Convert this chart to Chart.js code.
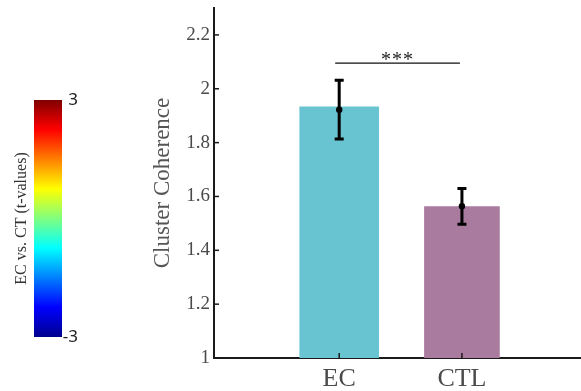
<!DOCTYPE html>
<html>
<head>
<meta charset="utf-8">
<script src="https://cdn.jsdelivr.net/npm/chart.js@4.4.1/dist/chart.umd.min.js"></script>
<style>
  html, body { margin: 0; padding: 0; background: #fff; }
  #wrap { position: relative; width: 581px; height: 391px; }
  #main, #cbar { position: absolute; left: 0; top: 0; }
</style>
</head>
<body>
<div id="wrap">
  <canvas id="main" width="581" height="391"></canvas>
  <canvas id="cbar" width="100" height="391"></canvas>
</div>
<script>
// ---- data ----
const groups = ['EC', 'CTL'];
const groupPos = [1, 2];
const barValues = [1.933, 1.562];
const meanValues = [1.922, 1.564];
const errLower = [1.813, 1.497];
const errUpper = [2.032, 1.630];
const yTicks = [1, 1.2, 1.4, 1.6, 1.8, 2, 2.2];
const sigLevel = 2.095;
const sigLabel = '***';
const cbarRange = [-3, 3];
const cbarTicks = [-3, 3];

// ---- styling ----
const barColors = ['#69C4D2', '#A97B9F'];
const barWidths = [79, 75];
const jetStops = [
  [0.0, '#00008F'], [0.125, '#0000FF'], [0.375, '#00FFFF'],
  [0.625, '#FFFF00'], [0.875, '#FF0000'], [1.0, '#800000']
];
const serif = "'Liberation Serif', 'Times New Roman', serif";
const axisColor = '#1a1a1a';

// whiskers, inner ticks and the significance bracket
const overlay = {
  id: 'overlay',
  afterDatasetsDraw(chart) {
    const { ctx, scales: { x, y }, chartArea } = chart;
    ctx.save();
    ctx.strokeStyle = axisColor;
    ctx.lineWidth = 1.5;
    // ticks pointing into the plot
    yTicks.forEach(v => {
      const py = y.getPixelForValue(v);
      ctx.beginPath();
      ctx.moveTo(chartArea.left, py);
      ctx.lineTo(chartArea.left + 5, py);
      ctx.stroke();
    });
    groupPos.forEach(v => {
      const px = x.getPixelForValue(v);
      ctx.beginPath();
      ctx.moveTo(px, chartArea.bottom);
      ctx.lineTo(px, chartArea.bottom - 5);
      ctx.stroke();
    });
    // error bars
    ctx.strokeStyle = '#000';
    ctx.fillStyle = '#000';
    ctx.lineWidth = 3;
    groupPos.forEach((g, i) => {
      const px = x.getPixelForValue(g);
      const top = y.getPixelForValue(errUpper[i]);
      const bot = y.getPixelForValue(errLower[i]);
      ctx.beginPath();
      ctx.moveTo(px, top); ctx.lineTo(px, bot);
      ctx.moveTo(px - 4.5, top); ctx.lineTo(px + 4.5, top);
      ctx.moveTo(px - 4.5, bot); ctx.lineTo(px + 4.5, bot);
      ctx.stroke();
      ctx.beginPath();
      ctx.arc(px, y.getPixelForValue(meanValues[i]), 3.2, 0, Math.PI * 2);
      ctx.fill();
    });
    // significance bracket
    const sy = y.getPixelForValue(sigLevel);
    const x0 = x.getPixelForValue(groupPos[0]) - 4;
    const x1 = x.getPixelForValue(groupPos[1]) - 2;
    ctx.lineWidth = 1.2;
    ctx.strokeStyle = '#111';
    ctx.beginPath();
    ctx.moveTo(x0, sy); ctx.lineTo(x1, sy);
    ctx.stroke();
    ctx.font = '20px ' + serif;
    ctx.fillStyle = '#222';
    ctx.textAlign = 'center';
    ctx.textBaseline = 'alphabetic';
    if ('letterSpacing' in ctx) ctx.letterSpacing = '1px';
    ctx.fillText(sigLabel, (x0 + x1) / 2, sy + 3);
    ctx.restore();
  }
};

new Chart(document.getElementById('main'), {
  type: 'bar',
  data: {
    datasets: groups.map((g, i) => ({
      label: g,
      data: [{ x: groupPos[i], y: barValues[i] }],
      backgroundColor: barColors[i],
      barThickness: barWidths[i],
      base: 1,
      grouped: false
    }))
  },
  options: {
    responsive: false,
    animation: false,
    devicePixelRatio: 1,
    layout: { padding: { top: 8, left: 145, right: 0, bottom: 0 } },
    plugins: { legend: { display: false }, tooltip: { enabled: false } },
    scales: {
      x: {
        type: 'linear', min: -0.02, max: 2.97, offset: false,
        afterBuildTicks: s => { s.ticks = groupPos.map(v => ({ value: v })); },
        afterFit: s => { s.height = 33; s.paddingLeft = 0; s.paddingRight = 0; },
        grid: { display: false, drawTicks: false, offset: false },
        border: { display: true, color: axisColor, width: 2 },
        ticks: {
          autoSkip: false, maxRotation: 0, padding: 6, color: '#4a4a4a',
          font: { family: serif, size: 26 },
          callback: v => groups[groupPos.indexOf(v)] ?? ''
        }
      },
      y: {
        min: 1, max: 2.3,
        afterBuildTicks: s => { s.ticks = yTicks.map(v => ({ value: v })); },
        afterFit: s => { s.width = 69; s.paddingTop = 0; s.paddingBottom = 0; },
        grid: { display: false, drawTicks: false },
        border: { display: true, color: axisColor, width: 2 },
        ticks: {
          padding: 4, color: '#4a4a4a',
          font: { family: serif, size: 19 },
          callback: v => String(Number(v.toFixed(1)))
        },
        title: {
          display: true, text: 'Cluster Coherence', color: '#555',
          font: { family: serif, size: 23 },
          padding: { top: 4, bottom: 0 }
        }
      }
    }
  },
  plugins: [overlay]
});

// colour bar
new Chart(document.getElementById('cbar'), {
  type: 'bar',
  data: {
    labels: [''],
    datasets: [{
      data: [cbarRange],
      barPercentage: 1,
      categoryPercentage: 1,
      backgroundColor: c => {
        const ca = c.chart.chartArea;
        if (!ca) return '#000';
        const g = c.chart.ctx.createLinearGradient(0, ca.bottom, 0, ca.top);
        jetStops.forEach(([p, col]) => g.addColorStop(p, col));
        return g;
      }
    }]
  },
  options: {
    responsive: false,
    animation: false,
    devicePixelRatio: 1,
    layout: { padding: { top: 100, bottom: 54, left: 0, right: 22 } },
    plugins: { legend: { display: false }, tooltip: { enabled: false } },
    scales: {
      x: { display: false },
      y: {
        position: 'right', min: cbarRange[0], max: cbarRange[1], z: 1,
        afterBuildTicks: s => { s.ticks = cbarTicks.map(v => ({ value: v })); },
        afterFit: s => { s.width = 16; s.paddingTop = 0; s.paddingBottom = 0; },
        grid: { display: false, drawTicks: false },
        border: { display: false },
        ticks: {
          padding: 0, crossAlign: 'far', color: '#222',
          font: { family: "'Noto Sans', sans-serif", size: 17 }
        }
      },
      yl: {
        position: 'left', min: cbarRange[0], max: cbarRange[1],
        afterFit: s => { s.width = 34; s.paddingTop = 0; s.paddingBottom = 0; },
        grid: { display: false, drawTicks: false },
        border: { display: false },
        ticks: { display: false },
        title: {
          display: true, text: 'EC vs. CT (t-values)', color: '#333',
          font: { family: serif, size: 16 },
          padding: { top: 12, bottom: 0 }
        }
      }
    }
  }
});
</script>
</body>
</html>
